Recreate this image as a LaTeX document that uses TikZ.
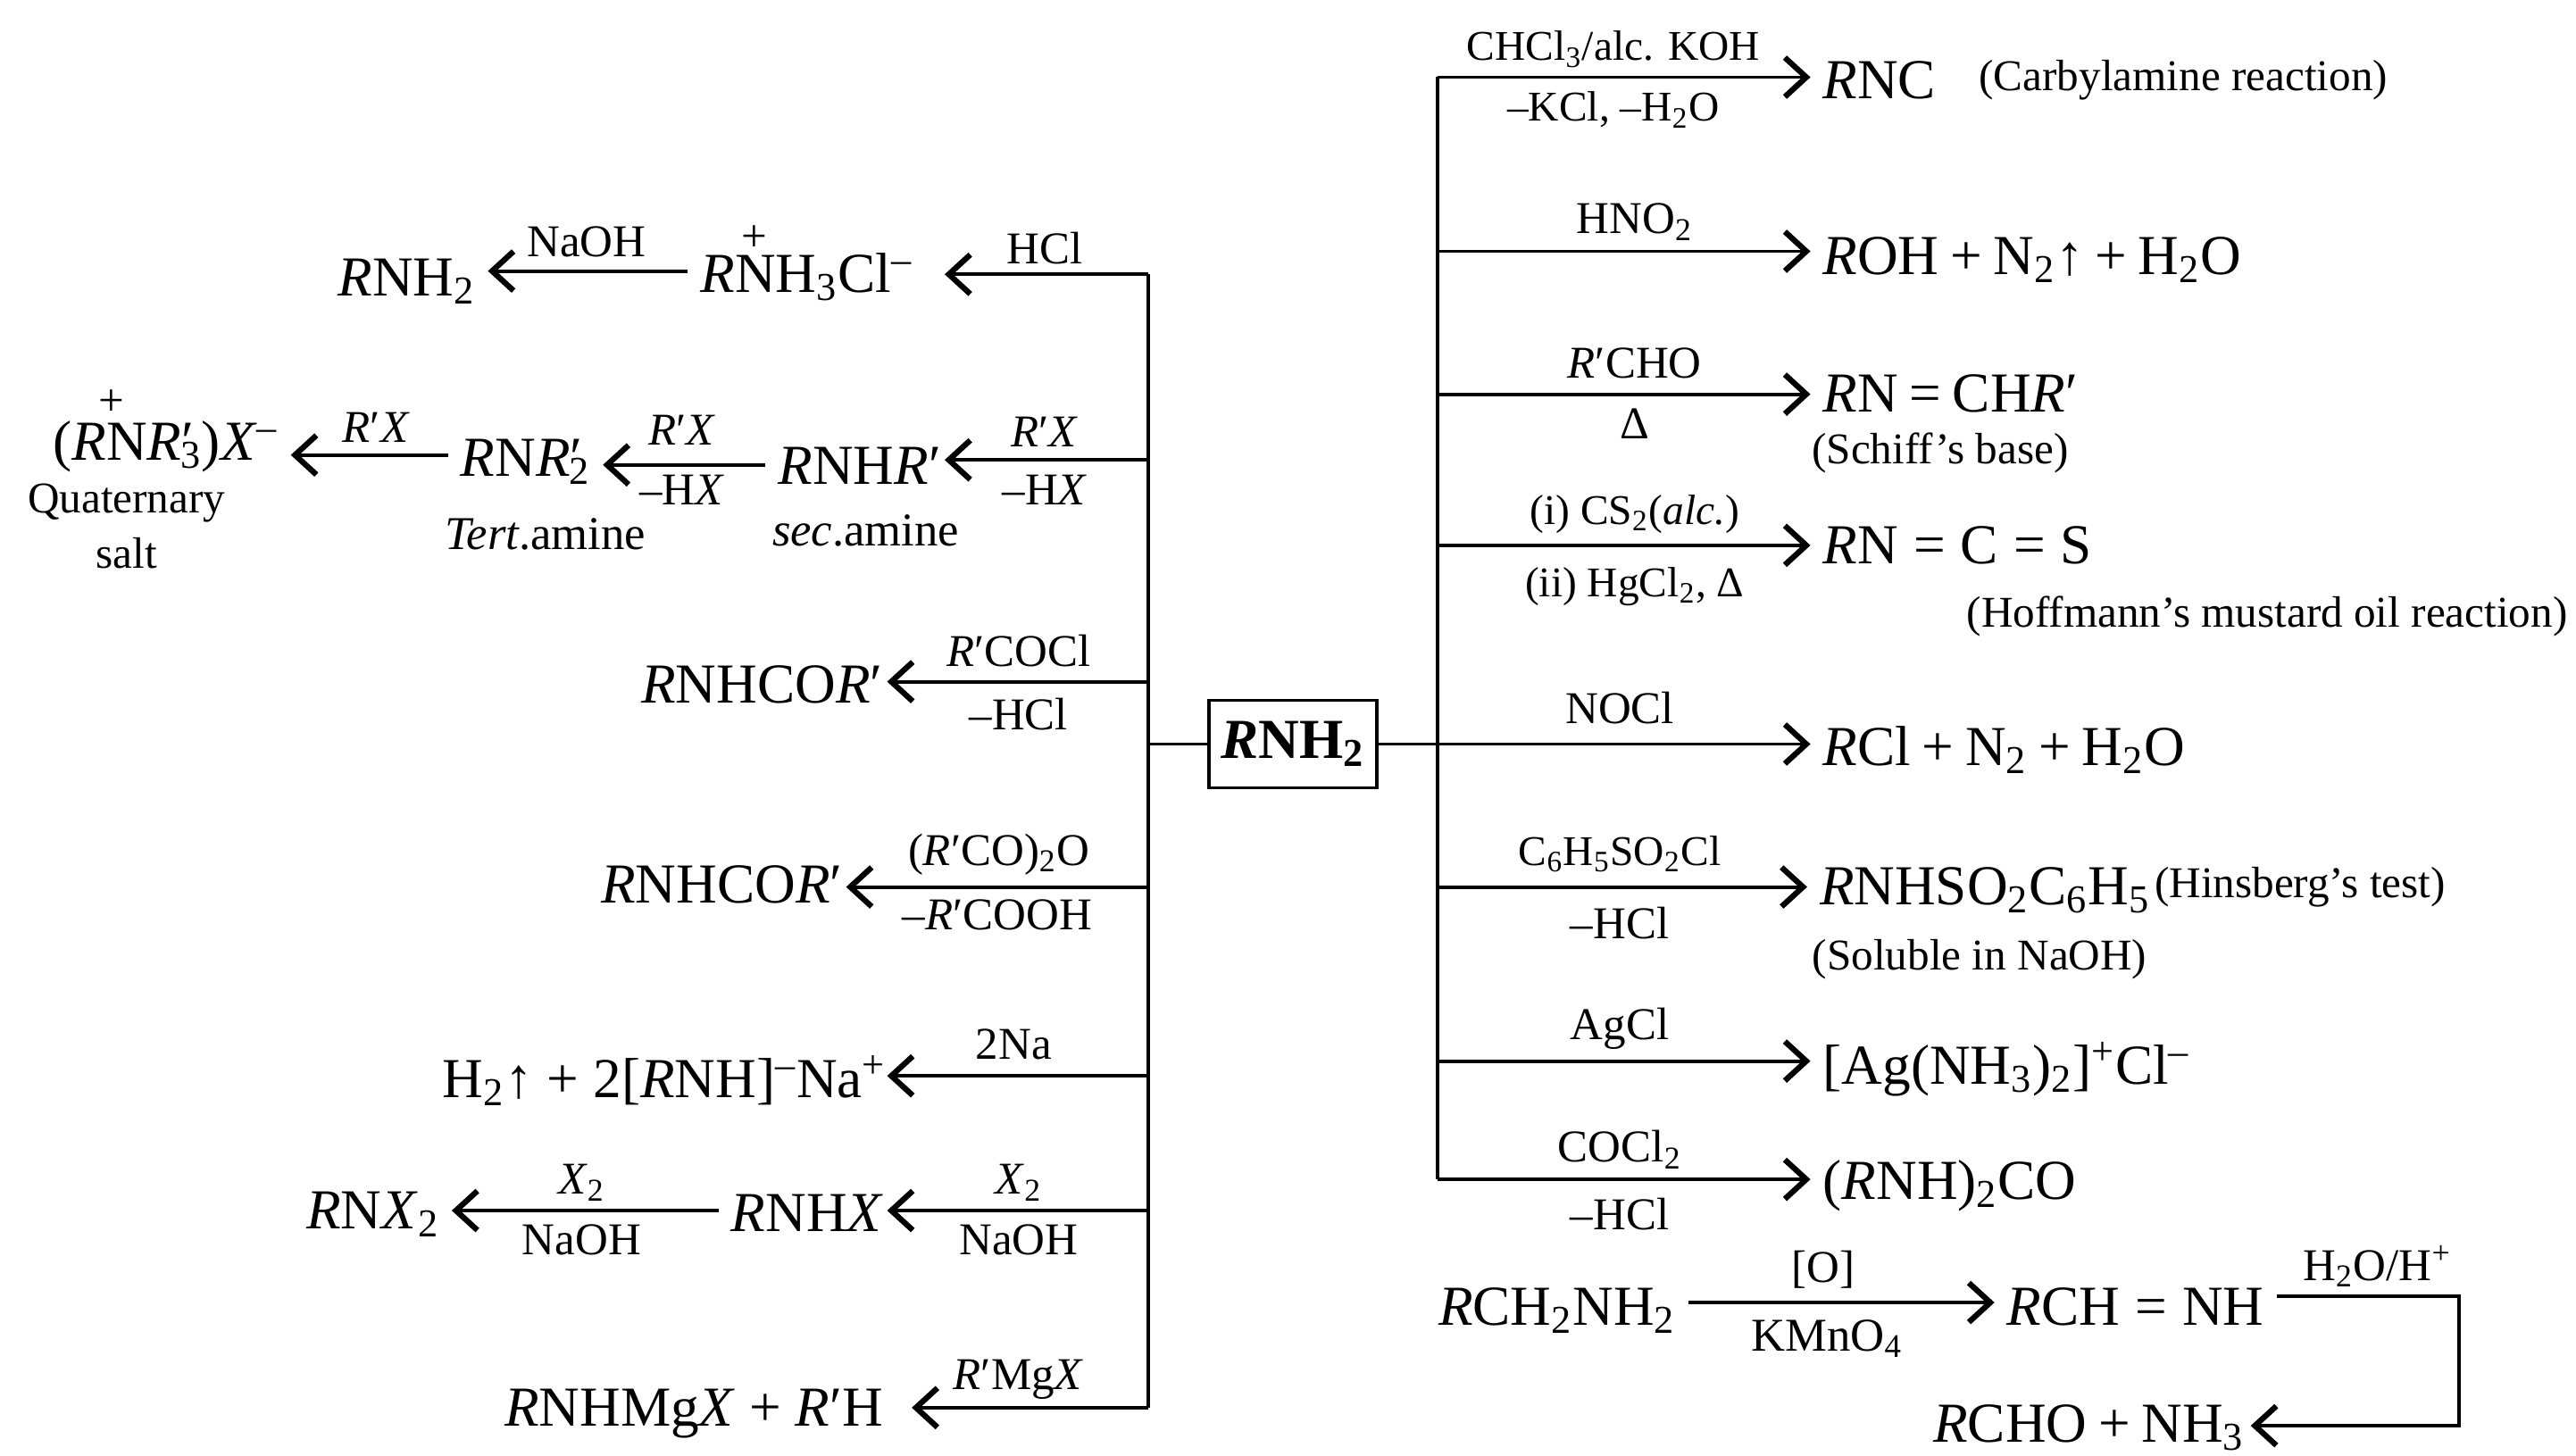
\documentclass[tikz,border=0pt]{standalone}
\usepackage{fontspec}
\setmainfont{Liberation Serif}
\usetikzlibrary{positioning,arrows.meta,calc}
\newcommand{\Rr}{\textit{R}}
\newcommand{\Rp}{\textit{R}′}
\newcommand{\Xx}{\textit{X}}
\newcommand{\Sb}[1]{\textsubscript{#1}}
\newcommand{\Sp}[1]{\textsuperscript{#1}}
\newcommand{\Pl}{\hspace{0.2em}+\hspace{0.2em}}
\newcommand{\Eq}{\hspace{0.27em}=\hspace{0.27em}}
\tikzset{
    rxn/.style={line width=1.1pt, -{Straight Barb[length=2.4mm,width=4.4mm,line width=1.8pt]}},
    busline/.style={line width=1.1pt},
    prodr/.style={anchor=base west, inner sep=0pt, outer xsep=4pt, font=\fontsize{18}{20}\selectfont},
    prodl/.style={anchor=base east, inner sep=0pt, outer xsep=4pt, font=\fontsize{18}{20}\selectfont},
    lab/.style={inner sep=0pt, font=\fontsize{14.5}{16}\selectfont},
    labn/.style={inner sep=0pt, font=\fontsize{13.5}{16}\selectfont},
    note/.style={inner sep=0pt, font=\fontsize{14}{16}\selectfont},
    amine/.style={inner sep=0pt, font=\fontsize{15}{17}\selectfont},
}
\begin{document}
\begin{tikzpicture}[x=0.0184cm, y=-0.0184cm]
    \useasboundingbox (0,0) rectangle (1568,885.9);
    \node[draw, line width=1.1pt, minimum width=1.88cm, minimum height=0.98cm, inner sep=0pt,
        font=\fontsize{18}{20}\selectfont\bfseries] (amine) at (787,453) {\Rr NH\Sb{2}};
    % left side
    \coordinate (ltop) at (699,167);
    \coordinate (lmid) at (699,453);
    \coordinate (lsec) at (699,280);
    \coordinate (lacl) at (699,415);
    \coordinate (lanh) at (699,540);
    \coordinate (lna) at (699,655);
    \coordinate (lhal) at (699,737);
    \coordinate (lbot) at (699,857);
    \draw[busline] (ltop) -- (lbot);
    \draw[busline] (lmid) -- (amine.west);
    \node[prodl] (ammonium) at (575,178) {\Rr NH\Sb{3}Cl\Sp{–}\kern0.22cm};
    \node[prodl] (freeamine) at (297,180) {\Rr NH\Sb{2}};
    \node[lab] (plusa) at (459,145) {+};
    \coordinate (ya) at (0,165);
    \draw[rxn] (ltop) -- (ltop -| ammonium.east);
    \draw[rxn] (ammonium.west |- ya) -- (freeamine.east |- ya);
    \node[lab] (hcl) at (636,151) {HCl};
    \node[lab] (naoha) at (357,147) {NaOH};
    \node[prodl] (secamine) at (575,295) {\Rr NH\Rp\kern-0.1cm};
    \node[prodl] (tertamine) at (367,290) {\Rr N\Rp\hspace{-0.24em}\Sb{2}};
    \node[prodl] (quat) at (177,280) {(\Rr N\Rp\hspace{-0.24em}\Sb{3})\Xx\Sp{–}};
    \node[lab] (plusb) at (68,245) {+};
    \coordinate (yb) at (0,283);
    \coordinate (yc) at (0,277);
    \draw[rxn] (lsec) -- (lsec -| secamine.east);
    \draw[rxn] (secamine.west |- yb) -- (tertamine.east |- yb);
    \draw[rxn] (tertamine.west |- yc) -- (quat.east |- yc);
    \node[lab] (rxa) at (636,263) {\Rp\Xx};
    \node[lab] (hxa) at (636,298) {–H\Xx};
    \node[lab] (rxb) at (415,262) {\Rp\Xx};
    \node[lab] (hxb) at (415,298) {–H\Xx};
    \node[lab] (rxc) at (229,260) {\Rp\Xx};
    \node[amine] (sectext) at (527,323) {\textit{sec}.amine};
    \node[amine] (terttext) at (332,325) {\textit{Tert}.amine};
    \node[note] (quattext) at (77,306) {Quaternary};
    \node[note] (salttext) at (77,337) {salt};
    \node[prodl] (amidea) at (540,428) {\Rr NHCO\Rp\kern-0.09cm};
    \draw[rxn] (lacl) -- (lacl -| amidea.east);
    \node[lab] (acyl) at (620,396) {\Rp COCl};
    \node[lab] (hcla) at (620,435) {–HCl};
    \node[prodl] (amideb) at (515,550) {\Rr NHCO\Rp\kern-0.1cm};
    \draw[rxn] (lanh) -- (lanh -| amideb.east);
    \node[lab] (anhyd) at (608,520) {(\Rp CO)\Sb{2}O};
    \node[lab] (acid) at (607,557) {–\Rp COOH};
    \node[prodl] (sodium) at (540,668) {H\Sb{2}↑ + 2[\Rr NH]\Sp{–}Na\Sp{+}\kern-0.13cm};
    \draw[rxn] (lna) -- (lna -| sodium.east);
    \node[lab] (na) at (617,636) {2Na};
    \node[prodl] (haloa) at (540,750) {\Rr NH\Xx\kern-0.1cm};
    \node[prodl] (halob) at (275,748) {\Rr N\Xx\Sb{2}};
    \draw[rxn] (lhal) -- (lhal -| haloa.east);
    \draw[rxn] (haloa.west |- lhal) -- (halob.east |- lhal);
    \node[lab] (xa) at (620,720) {\Xx\Sb{2}};
    \node[lab] (naohb) at (620,755) {NaOH};
    \node[lab] (xb) at (354,720) {\Xx\Sb{2}};
    \node[lab] (naohc) at (354,755) {NaOH};
    \node[prodl] (grignard) at (555,868) {\Rr NHMg\Xx{} + \Rp H\kern0.18cm};
    \draw[rxn] (lbot) -- (lbot -| grignard.east);
    \node[lab] (rmgx) at (620,840) {\Rp Mg\Xx};
    % right side
    \coordinate (rtop) at (875,47);
    \coordinate (rhno) at (875,153);
    \coordinate (rald) at (875,240);
    \coordinate (rcs) at (875,332);
    \coordinate (rmid) at (875,453);
    \coordinate (rsul) at (875,540);
    \coordinate (rag) at (875,646);
    \coordinate (rbot) at (875,718);
    \draw[busline] (rtop) -- (rbot);
    \node[prodr] (carbyl) at (1102,60) {\Rr NC};
    \draw[rxn] (rtop) -- (rtop -| carbyl.west);
    \node[labn] (chcl) at (982,30) {CHCl\Sb{3}/alc. KOH};
    \node[labn] (kcl) at (982,67) {–KCl, –H\Sb{2}O};
    \node[note] (carbtext) at (1329,49) {(Carbylamine reaction)};
    \node[prodr] (alcohol) at (1102,167) {\Rr OH\Pl N\Sb{2}↑\Pl H\Sb{2}O};
    \draw[rxn] (rhno) -- (rhno -| alcohol.west);
    \node[lab] (hno) at (995,135) {HNO\Sb{2}};
    \node[prodr] (schiff) at (1102,251) {\Rr N\hspace{0.2em}=\hspace{0.2em}CH\Rp};
    \draw[rxn] (rald) -- (rald -| schiff.west);
    \node[lab] (rcho) at (995,221) {\Rp CHO};
    \node[lab] (dela) at (995,258) {Δ};
    \node[note] (schifftext) at (1181,276) {(Schiff's base)};
    \node[prodr] (mustard) at (1102,343) {\Rr N\Eq C\Eq S};
    \draw[rxn] (rcs) -- (rcs -| mustard.west);
    \node[labn] (cs) at (995,313) {(i) CS\Sb{2}(\textit{alc.})};
    \node[labn] (hg) at (995,357) {(ii) HgCl\Sb{2}, Δ};
    \node[note] (mustext) at (1380,375) {(Hoffmann's mustard oil reaction)};
    \node[prodr] (chloride) at (1102,466) {\Rr Cl\Pl N\Sb{2}\Pl H\Sb{2}O};
    \draw[rxn] (amine.east) -- (amine.east -| chloride.west);
    \node[lab] (nocl) at (986,431) {NOCl};
    \node[prodr] (sulfon) at (1100,551) {\Rr NHSO\Sb{2}C\Sb{6}H\Sb{5}};
    \draw[rxn] (rsul) -- (rsul -| sulfon.west);
    \node[labn] (benz) at (986,520) {C\Sb{6}H\Sb{5}SO\Sb{2}Cl};
    \node[lab] (hclb) at (986,562) {–HCl};
    \node[note] (hinstext) at (1400,540) {(Hinsberg's test)};
    \node[note] (soltext) at (1205,584) {(Soluble in NaOH)};
    \node[prodr] (silver) at (1102,660) {[Ag(NH\Sb{3})\Sb{2}]\Sp{+}Cl\Sp{–}};
    \draw[rxn] (rag) -- (rag -| silver.west);
    \node[lab] (agcl) at (986,626) {AgCl};
    \node[prodr] (urea) at (1102,730) {(\Rr NH)\Sb{2}CO};
    \draw[rxn] (rbot) -- (rbot -| urea.west);
    \node[lab] (cocl) at (986,700) {COCl\Sb{2}};
    \node[lab] (hclc) at (986,739) {–HCl};
    % lower reaction
    \node[prodr] (primary) at (868,807) {\Rr CH\Sb{2}NH\Sb{2}};
    \node[prodr] (imine) at (1214,807) {\Rr CH\Eq NH};
    \coordinate (yd) at (0,793);
    \draw[rxn] (primary.east |- yd) -- (imine.west |- yd);
    \node[lab] (oxo) at (1110,773) {[O]};
    \node[amine] (kmn) at (1112,815) {KMnO\Sb{4}};
    \node[prodl] (final) at (1370,878) {\Rr CHO\Pl NH\Sb{3}\kern-0.07cm};
    \coordinate (ca) at (1497,789);
    \coordinate (cb) at (1497,868);
    \draw[rxn] (imine.east |- ca) -- (ca) -- (cb) -- (final.east |- cb);
    \node[lab] (water) at (1447,771) {H\Sb{2}O/H\Sp{+}};
\end{tikzpicture}
\end{document}
